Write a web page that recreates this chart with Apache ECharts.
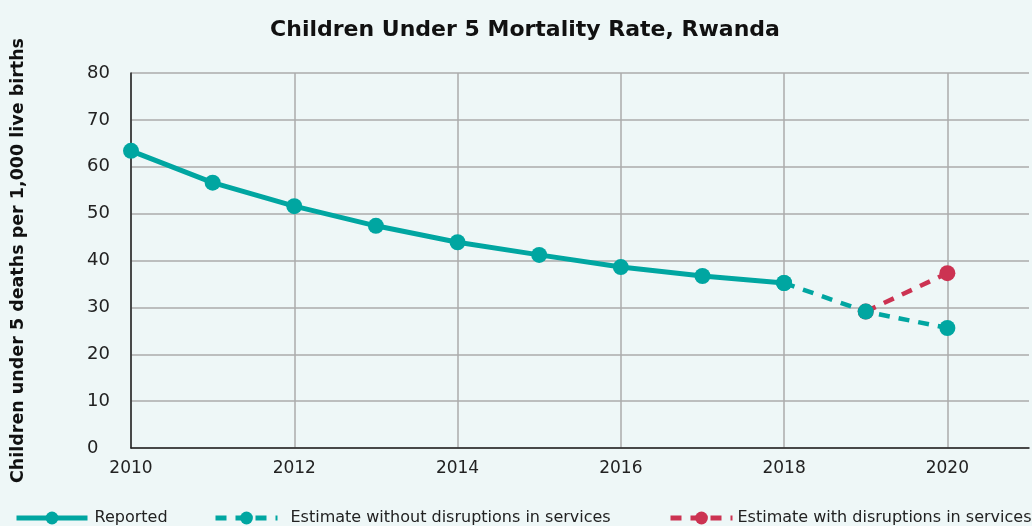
<!DOCTYPE html>
<html>
<head>
<meta charset="utf-8">
<script src="https://cdn.jsdelivr.net/npm/echarts@6/dist/echarts.min.js"></script>
<style>
  html, body { margin: 0; padding: 0; background: #eef7f7; }
  #chart { width: 1032px; height: 526px; }
</style>
</head>
<body>
<div id="chart"></div>
<script>
  // values
  const years = [2010, 2011, 2012, 2013, 2014, 2015, 2016, 2017, 2018];
  const reported = [63.4, 56.6, 51.6, 47.4, 43.9, 41.2, 38.6, 36.7, 35.2];
  const estYears = [2018, 2019, 2020];
  const estNoDisruption = [35.2, 29.1, 25.6];
  const disYears = [2019, 2020];
  const estDisruption = [29.1, 37.3];
  const seriesNames = ['Reported', 'Estimate without disruptions in services', 'Estimate with disruptions in services'];

  const teal = '#00a6a1';
  const red = '#cc3352';
  const font = 'DejaVu Sans';

  const pairs = (xs, ys) => xs.map((x, i) => [x, ys[i]]);

  // legend placement: [left, icon width, text padding]
  const legendPos = [[14, 71, 2], [213, 62, 8], [668, 62, 0]];

  let myChart = echarts.init(document.getElementById('chart'));
  myChart.setOption({
    backgroundColor: '#eef7f7',
    animation: false,
    title: {
      text: 'Children Under 5 Mortality Rate, Rwanda',
      left: 520, top: 14, textAlign: 'center',
      textStyle: { fontFamily: font, fontWeight: 'bold', fontSize: 22, color: '#111' }
    },
    legend: legendPos.map((p, i) => ({
      data: [seriesNames[i]],
      left: p[0], top: 510, padding: 0,
      itemWidth: p[1], itemHeight: 16,
      itemGap: 0,
      lineStyle: { width: 5 },
      textStyle: { fontFamily: font, fontSize: 16, color: '#222', padding: [0, 0, 0, p[2]] }
    })),
    grid: { left: 131, right: 3, top: 73, bottom: 78, containLabel: false },
    xAxis: {
      type: 'value', min: 2010, max: 2021, interval: 2,
      axisLine: { lineStyle: { color: '#222', width: 1.5 } },
      axisTick: { show: false },
      axisLabel: {
        fontFamily: font, fontSize: 17, color: '#222', margin: 12,
        formatter: (v) => (v % 2 === 0 && v <= 2020 ? String(v) : '')
      },
      splitLine: { show: true, showMaxLine: false, lineStyle: { color: '#ababab', width: 1.5 } }
    },
    yAxis: {
      type: 'value', min: 0, max: 80, interval: 10,
      name: 'Children under 5 deaths per 1,000 live births',
      nameLocation: 'middle', nameGap: 104,
      nameTextStyle: { fontFamily: font, fontWeight: 'bold', fontSize: 17.5, color: '#111' },
      axisLine: { show: true, lineStyle: { color: '#222', width: 1.5 } },
      axisTick: { show: false },
      axisLabel: { fontFamily: font, fontSize: 18, color: '#222', margin: 44, align: 'left' },
      splitLine: { show: true, lineStyle: { color: '#ababab', width: 1.5 } }
    },
    series: [
      {
        name: seriesNames[2], type: 'line', data: pairs(disYears, estDisruption),
        symbol: 'circle', symbolSize: 16, z: 2,
        lineStyle: { color: red, width: 4.5, type: [11, 9] },
        itemStyle: { color: red }
      },
      {
        name: seriesNames[1], type: 'line', data: pairs(estYears, estNoDisruption),
        symbol: 'circle', symbolSize: 16, z: 3,
        lineStyle: { color: teal, width: 4.5, type: [11, 9] },
        itemStyle: { color: teal }
      },
      {
        name: seriesNames[0], type: 'line', data: pairs(years, reported),
        symbol: 'circle', symbolSize: 16, z: 4,
        lineStyle: { color: teal, width: 5 },
        itemStyle: { color: teal }
      }
    ]
  });
</script>
</body>
</html>
